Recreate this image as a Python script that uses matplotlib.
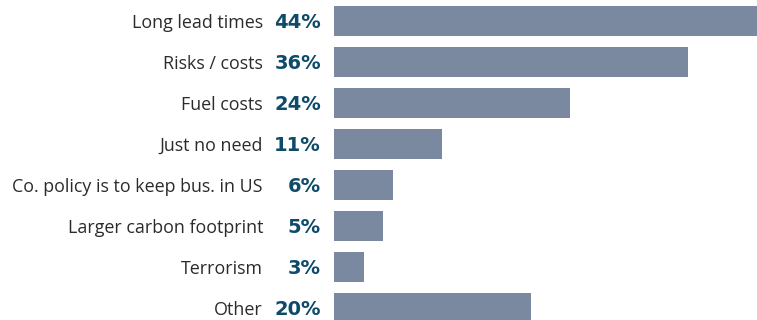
import matplotlib
matplotlib.use("Agg")
import matplotlib.pyplot as plt
import matplotlib.transforms as mtransforms

# datos
categorias = ["Long lead times", "Risks / costs", "Fuel costs", "Just no need",
              "Co. policy is to keep bus. in US", "Larger carbon footprint",
              "Terrorism", "Other"]
valores = [44, 36, 24, 11, 6, 5, 3, 20]

colorBarra = "#7a88a0"
colorPct = "#0e4a6a"
colorTexto = "#2b2b2b"

plt.rcParams['font.family'] = ['Open Sans', 'DejaVu Sans']

fig = plt.figure(figsize=(7.57, 3.2), dpi=100)
ax = fig.add_axes([334/757, 0, 1 - 334/757, 1])

pos = list(range(len(categorias)))
ax.barh(pos, valores, height=0.73, color=colorBarra)
ax.set_xlim(0, 43.0)
ax.set_ylim(7.29, -0.512)
ax.axis('off')

# etiquetas a la izquierda (linea base un poco abajo del centro de la barra)
trans = mtransforms.blended_transform_factory(fig.transFigure, ax.transData)
for i, (cat, v) in enumerate(zip(categorias, valores)):
    ax.text(263/757, i + 0.17, cat, transform=trans, ha='right', va='baseline',
            fontsize=12.9, color=colorTexto, clip_on=False)
    ax.text(321/757, i + 0.17, f"{v}%", transform=trans, ha='right', va='baseline',
            fontsize=14, fontweight='bold', color=colorPct, clip_on=False,
            family='DejaVu Sans')

fig.savefig("out.png", dpi=100)
